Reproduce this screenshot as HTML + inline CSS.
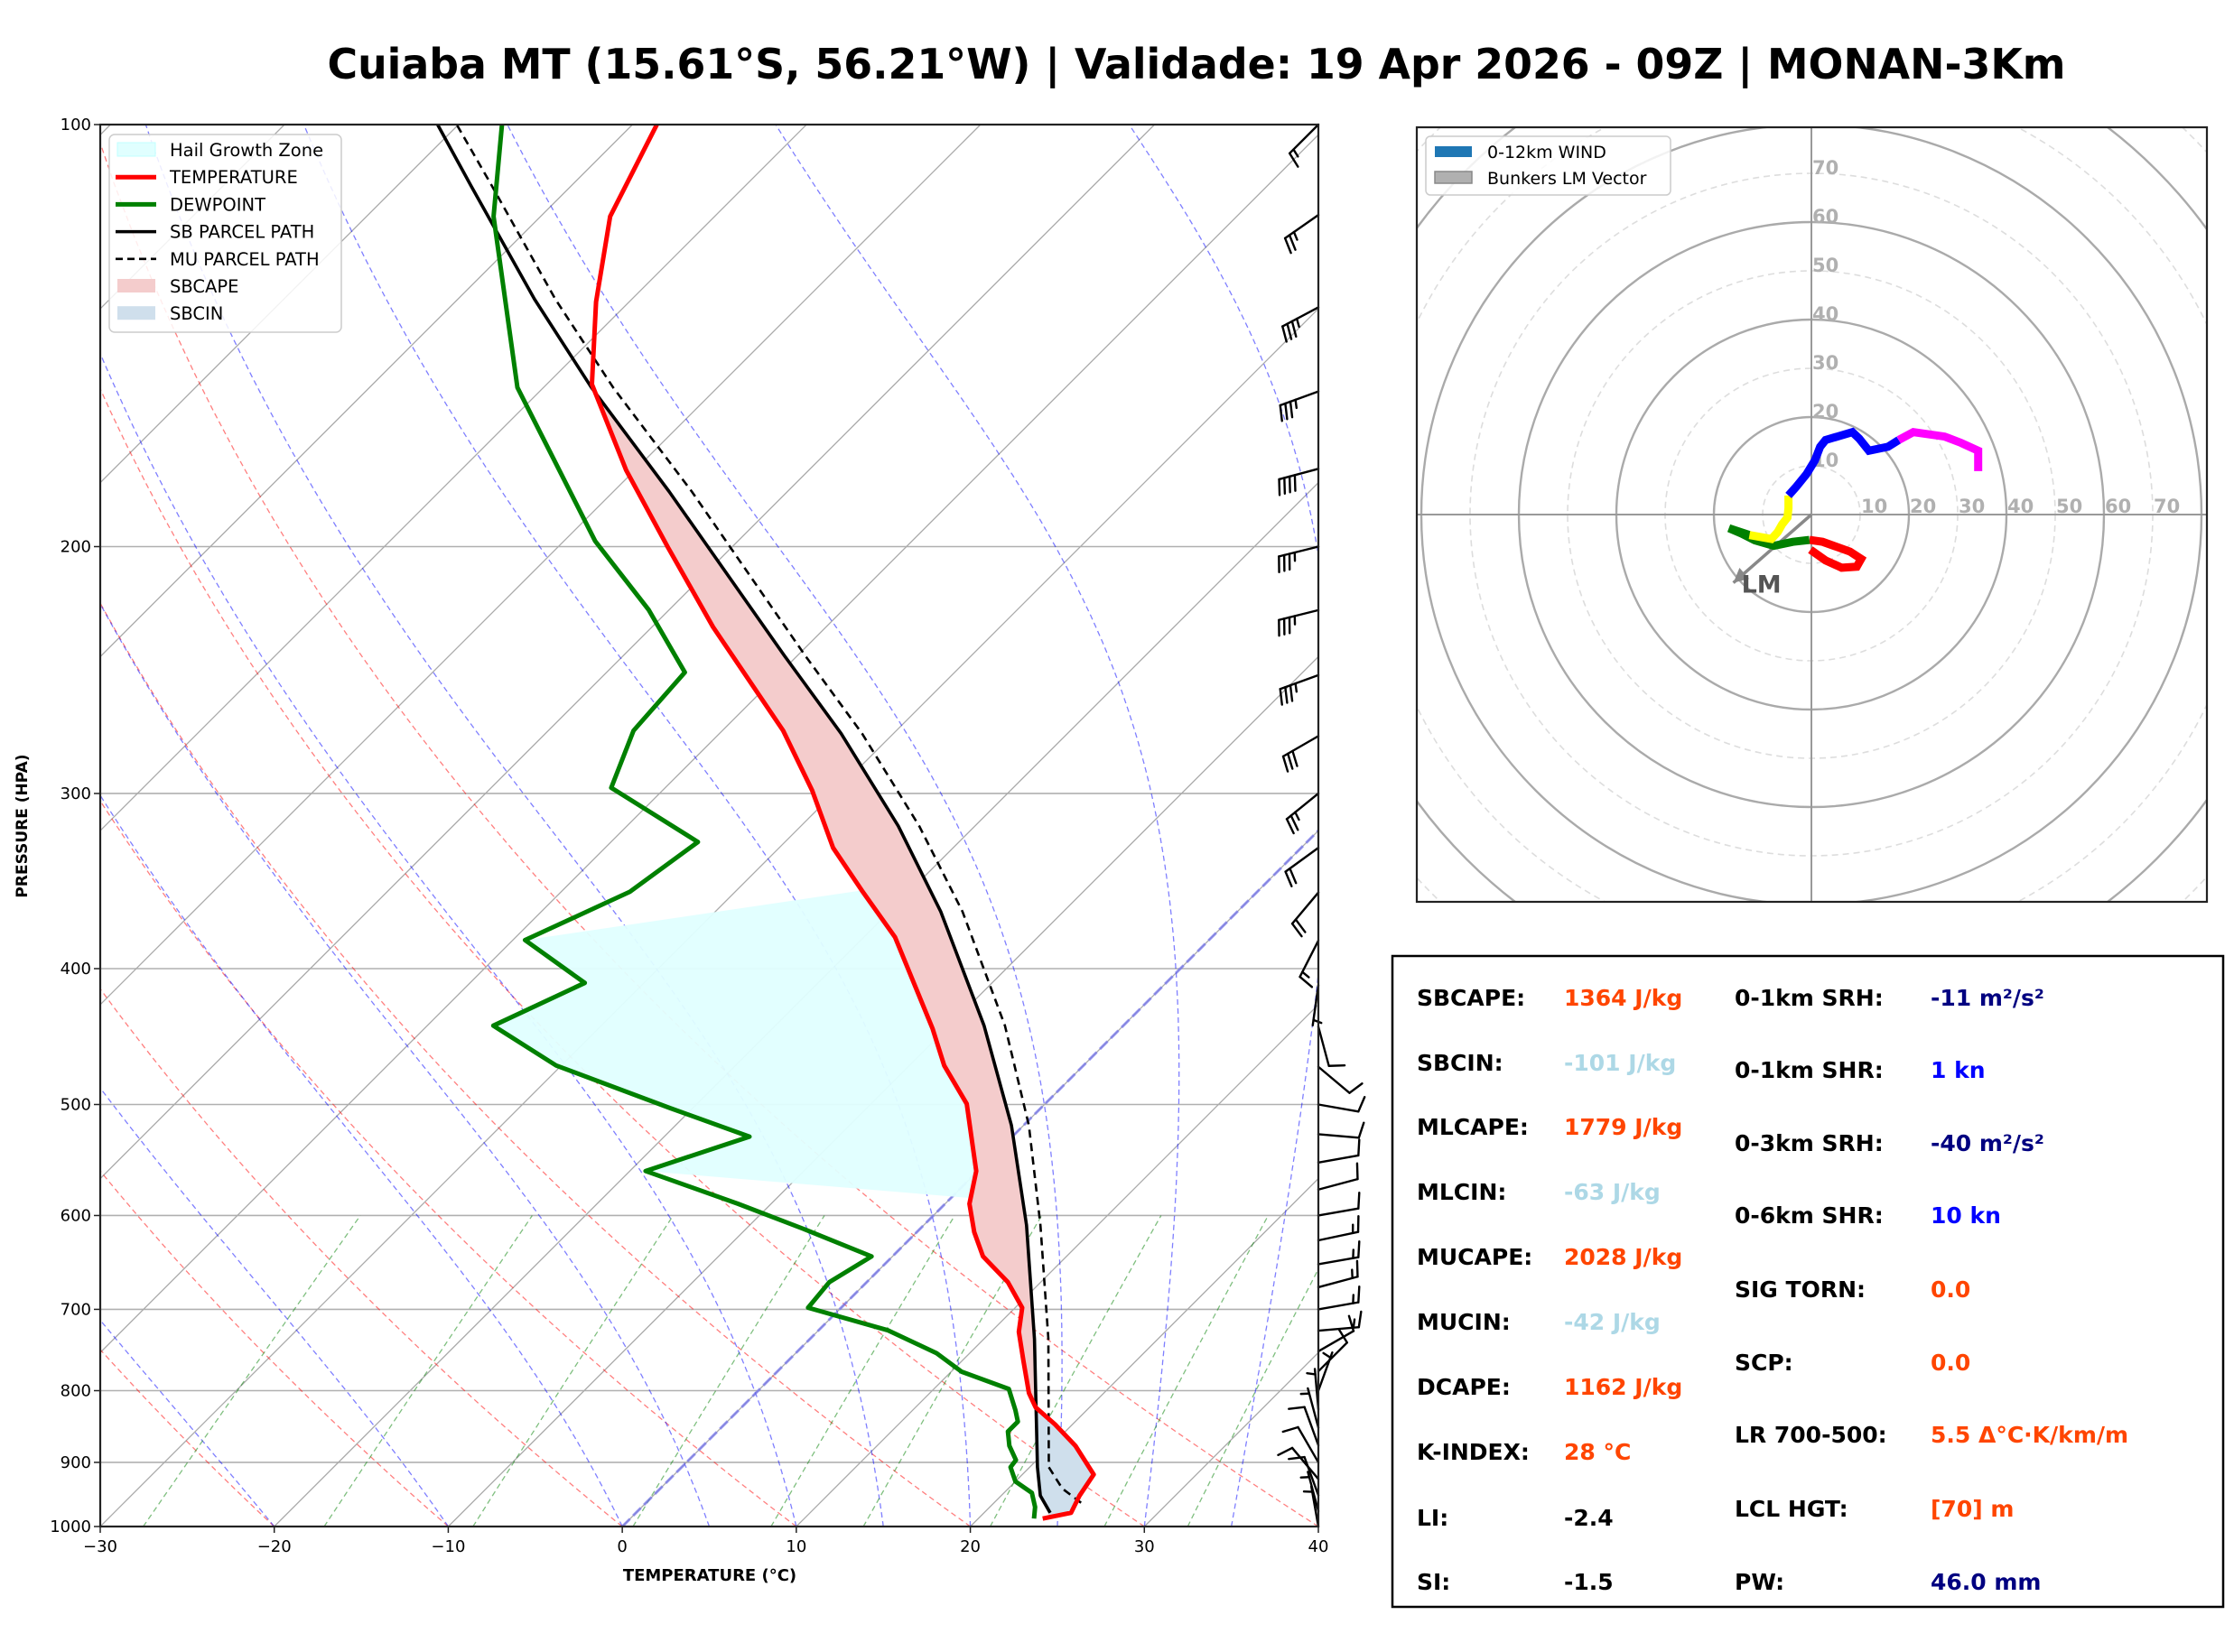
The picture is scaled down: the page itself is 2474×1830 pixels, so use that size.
<!DOCTYPE html>
<html><head><meta charset="utf-8"><title>Skew-T Cuiaba</title>
<style>html,body{margin:0;padding:0;background:#fff}svg{display:block}</style></head>
<body>
<svg id="fig" xmlns="http://www.w3.org/2000/svg" width="2474" height="1830" viewBox="0 0 2474 1830" font-family="'DejaVu Sans','Liberation Sans',sans-serif">
<defs>
<clipPath id="skclip"><rect x="111" y="138" width="1349" height="1553"/></clipPath>
<clipPath id="hdclip"><rect x="1569" y="141" width="875" height="858"/></clipPath>
</defs>
<rect x="0" y="0" width="2474" height="1830" fill="#fff"/>
<text x="1325" y="87" text-anchor="middle" font-size="46" font-weight="bold" textLength="1925" lengthAdjust="spacingAndGlyphs">Cuiaba MT (15.61°S, 56.21°W) | Validade: 19 Apr 2026 - 09Z | MONAN-3Km</text>
<g id="skew"></g>
<g id="hodo"></g>
<g id="stats">
<rect x="1542" y="1059" width="920" height="721" fill="#fff" stroke="#000" stroke-width="2.5"/>
<g font-size="25" font-weight="bold">
<text x="1569" y="1114">SBCAPE:</text><text x="1732" y="1114" fill="#ff4500">1364 J/kg</text>
<text x="1569" y="1186">SBCIN:</text><text x="1732" y="1186" fill="#add8e6">-101 J/kg</text>
<text x="1569" y="1257">MLCAPE:</text><text x="1732" y="1257" fill="#ff4500">1779 J/kg</text>
<text x="1569" y="1329">MLCIN:</text><text x="1732" y="1329" fill="#add8e6">-63 J/kg</text>
<text x="1569" y="1401">MUCAPE:</text><text x="1732" y="1401" fill="#ff4500">2028 J/kg</text>
<text x="1569" y="1473">MUCIN:</text><text x="1732" y="1473" fill="#add8e6">-42 J/kg</text>
<text x="1569" y="1545">DCAPE:</text><text x="1732" y="1545" fill="#ff4500">1162 J/kg</text>
<text x="1569" y="1617">K-INDEX:</text><text x="1732" y="1617" fill="#ff4500">28 °C</text>
<text x="1569" y="1690">LI:</text><text x="1732" y="1690">-2.4</text>
<text x="1569" y="1761">SI:</text><text x="1732" y="1761">-1.5</text>
<text x="1921" y="1114">0-1km SRH:</text><text x="2138" y="1114" fill="#000080">-11 m²/s²</text>
<text x="1921" y="1194">0-1km SHR:</text><text x="2138" y="1194" fill="#0000ff">1 kn</text>
<text x="1921" y="1275">0-3km SRH:</text><text x="2138" y="1275" fill="#000080">-40 m²/s²</text>
<text x="1921" y="1355">0-6km SHR:</text><text x="2138" y="1355" fill="#0000ff">10 kn</text>
<text x="1921" y="1437">SIG TORN:</text><text x="2138" y="1437" fill="#ff4500">0.0</text>
<text x="1921" y="1518">SCP:</text><text x="2138" y="1518" fill="#ff4500">0.0</text>
<text x="1921" y="1598">LR 700-500:</text><text x="2138" y="1598" fill="#ff4500">5.5 Δ°C·K/km/m</text>
<text x="1921" y="1680">LCL HGT:</text><text x="2138" y="1680" fill="#ff4500">[70] m</text>
<text x="1921" y="1761">PW:</text><text x="2138" y="1761" fill="#000080">46.0 mm</text>
</g>
</g>
</svg>
<script>
// ---------- Sounding data ----------
const tempP = [987,977.7,950.6,918.1,875.8,845.6,822.2,803.2,761.3,726.4,698.1,669.3,641.7,616.6,588.6,557.7,499.5,469.0,441.3,379.9,351.8,328.0,298.5,270.6,228.2,200.1,176.4,153.2,133.8,116.3,100];
const tempT = [23.7,25.0,24.5,24.1,21.4,19.0,16.9,15.7,13.5,11.6,10.4,8.1,5.2,3.3,1.4,-0.1,-4.5,-8.0,-10.8,-18.2,-22.8,-26.9,-31.4,-36.5,-46.5,-53.7,-60.5,-67.4,-71.9,-76.0,-78.6];
const dewP = [987,968.5,946.2,928.7,907.2,896.6,875.8,855.6,841.7,826.0,797.7,775.5,752.3,724.6,698.1,669.3,641.7,613.8,588.6,557.7,527.1,503.0,469.0,439.3,409.5,381.7,352.6,324.9,297.2,270.6,245.9,221.8,198.2,154.0,116.3,100];
const dewT = [23.2,22.6,21.6,20.0,18.9,18.8,17.6,16.7,16.7,15.9,14.3,10.6,8.1,4.0,-1.9,-2.15,-1.2,-6.6,-11.9,-19.1,-15.1,-21.3,-30.3,-36.2,-33.4,-39.3,-36.05,-35.0,-43.1,-45.1,-45.5,-51.2,-58.2,-71.5,-82.7,-87.5];
const sbP = [977.7,950.6,907.2,734.8,609.5,517.4,439.3,364.2,316.5,271.9,239.0,182.7,154.0,133.2,110.5,100];
const sbT = [23.8,22.25,20.45,12.9,5.9,-0.7,-8.0,-17.05,-24.4,-33.0,-40.8,-56.8,-67.25,-75.6,-85.8,-91.2];
const muP = [961.8,939.5,907.2,734.8,609.5,517.4,439.3,364.2,316.5,271.9,239.0,182.7,154.0,133.2,110.5,100];
const muT = [25.0,23.1,21.1,13.7,6.7,0.3,-6.8,-15.8,-23.2,-31.8,-39.6,-55.5,-66.0,-74.4,-84.6,-90.1];
const hailTop = 350, hailBot = 575;
const windP = [100,116,135,155,176,200,222,247,273,300,328,353,382,411,440,470,500,525,550,575,600,625,650,675,700,725,750,775,800,825,850,875,900,925,950,975,1000];
const windDir = [225,235,242,250,255,256,256,250,240,231,234,220,207,188,165,130,100,95,80,75,80,78,80,75,80,85,60,45,20,355,345,340,330,320,340,345,350];
const windSpd = [15,25,35,35,40,35,35,35,30,25,20,20,15,5,10,10,10,10,10,10,10,15,15,15,15,15,10,10,5,5,5,10,10,10,10,5,5];
const xTicks = [-30,-20,-10,0,10,20,30,40];
const yTicks = [100,200,300,400,500,600,700,800,900,1000];
const dryT0 = [-30,-20,-10,0,10,20,30,40];
const moistT0 = [-50,-40,-30,-20,-10,0,5,10,15,20,25,30,35,40];
const mixW = [0.0004,0.001,0.002,0.004,0.007,0.01,0.016,0.024,0.032];
// ---------- Hodograph data (knots) ----------
const hodoU = [-0.2,2.9,6.2,9.3,10.2,7.9,4.6,2.3, -0.4,-3.8,-7.7,-11.6,-14.3,-16.9, -12.7,-8.2,-6.9,-6.0,-4.9,-4.7, -4.7,-3.2,-1.0,0.7,1.8,2.9,8.4,9.8,11.8,15.7, 17.9,20.9,27.3,30.7,34.2,34.2];
const hodoV = [-7.2,-9.4,-10.9,-10.7,-9.1,-7.6,-6.4,-5.6, -5.2,-5.6,-6.4,-5.3,-3.9,-2.8, -4.2,-5.0,-3.6,-2.0,-0.6,1.3, 3.9,5.6,8.3,11.1,13.9,15.3,16.9,15.6,13.1,13.9, 15.3,16.9,16.0,14.7,13.1,8.9];
const hodoSeg = [0,0,0,0,0,0,0,0, 1,1,1,1,1,1, 2,2,2,2,2,2, 3,3,3,3,3,3,3,3,3,3, 4,4,4,4,4,4];
const segColors = ['#ff0000','#008000','#ffff00','#0000ff','#ff00ff'];
const segNames = ['hodo-0-1km','hodo-1-3km','hodo-3-6km','hodo-6-9km','hodo-9-12km'];
const lmU = -16, lmV = -14;
const ringKn = [10,20,30,40,50,60,70,80,90,100,110];
const ringLabels = [10,20,30,40,50,60,70];

const NS = 'http://www.w3.org/2000/svg';
function mk(tag, attrs, parent){
  const e = document.createElementNS(NS, tag);
  for (const k in attrs) e.setAttribute(k, attrs[k]);
  parent.appendChild(e);
  return e;
}
const X0=111, X1=1460, Y0=138, Y1=1691;
const PXC=(X1-X0)/70;
function yP(p){return Y0+(Y1-Y0)*Math.log10(p/100);}
function xT(t,p){return X0+(t+30)*PXC+(Y1-yP(p));}
function interp(P,T,p){
  const lp=Math.log(p);
  if (p>=P[0]) return T[0];
  for(let i=0;i<P.length-1;i++){
    const a=Math.log(P[i]), b=Math.log(P[i+1]);
    if(lp<=a && lp>=b){const f=(a-lp)/(a-b);return T[i]+f*(T[i+1]-T[i]);}
  }
  return T[T.length-1];
}
function pathFrom(P,T){
  let d='';
  for(let i=0;i<P.length;i++){d+=(i?'L':'M')+xT(T[i],P[i]).toFixed(1)+','+yP(P[i]).toFixed(1);}
  return d;
}
const skew=document.getElementById('skew');
const bg=mk('g',{'clip-path':'url(#skclip)'},skew);


for(const p of yTicks){
  const l=mk('line',{x1:X0,x2:X1,y1:yP(p),y2:yP(p),stroke:'#b0b0b0','stroke-width':1.6},bg);
  
  
}
for(let t=-130;t<=40;t+=10){
  const l=mk('line',{x1:xT(t,1000),y1:Y1,x2:xT(t,100),y2:Y0,stroke:'#aaaaaa','stroke-width':1.3},bg);
  
  
}
for(const t0 of dryT0){
  let d='';
  for(let p=1000;p>=100;p-=10){const t=(t0+273.15)*Math.pow(p/1000,0.2857)-273.15;d+=(p===1000?'M':'L')+xT(t,p).toFixed(1)+','+yP(p).toFixed(1);}
  const e=mk('path',{d:d,fill:'none',stroke:'#ff0000','stroke-opacity':0.5,'stroke-width':1.3,'stroke-dasharray':'6,4'},bg);
  
  
}
function es(tc){return 6.112*Math.exp(17.67*tc/(tc+243.5));}
for(const t0 of moistT0){
  let T=t0+273.15, d='M'+xT(t0,1000).toFixed(1)+','+Y1;
  for(let p=1000;p>100;p-=2){
    const tc=T-273.15, e=es(tc), rs=0.622*e/(p-e);
    const num=287*T+2.5e6*rs, den=1005+2.5e6*2.5e6*rs*0.622/(287*T*T);
    T-= (num/(p*den))*2;
    const pn=p-2;
    d+='L'+xT(T-273.15,pn).toFixed(1)+','+yP(pn).toFixed(1);
  }
  const e=mk('path',{d:d,fill:'none',stroke:'#0000ff','stroke-opacity':0.5,'stroke-width':1.3,'stroke-dasharray':'6,4'},bg);
  
  
}
for(const w of mixW){
  let d='';
  for(let p=1000;p>=600;p-=10){const e=w*p/(0.622+w);const L=Math.log(e/6.112);const td=243.5*L/(17.67-L);d+=(p===1000?'M':'L')+xT(td,p).toFixed(1)+','+yP(p).toFixed(1);}
  const e=mk('path',{d:d,fill:'none',stroke:'#008000','stroke-opacity':0.5,'stroke-width':1.3,'stroke-dasharray':'6,4'},bg);
  
  
}
const zl=mk('line',{x1:xT(0,1000),y1:Y1,x2:xT(0,100),y2:Y0,stroke:'#7070ee','stroke-opacity':0.7,'stroke-width':3,'stroke-dasharray':'12,5'},bg);



const fg=mk('g',{'clip-path':'url(#skclip)'},skew);


{
  let d='';let first=true;
  for(let i=dewP.length-1;i>=0;i--){ if(dewP[i]<=hailBot && dewP[i]>=hailTop+28){d+=(first?'M':'L')+xT(dewT[i],dewP[i]).toFixed(1)+','+yP(dewP[i]).toFixed(1);first=false;} }
  const pb=hailBot+8; d+='L'+xT(interp(tempP,tempT,pb),pb).toFixed(1)+','+yP(pb).toFixed(1);
  for(let i=0;i<tempP.length;i++){ if(tempP[i]<pb && tempP[i]>=hailTop) d+='L'+xT(tempT[i],tempP[i]).toFixed(1)+','+yP(tempP[i]).toFixed(1); }
  d+='Z';
  const h=mk('path',{d:d,fill:'#e0ffff','fill-opacity':0.95,stroke:'none'},fg);
  
  
}
function fillBetween(pHi,pLo,fa,fb,color,name){
  const ps=[];for(let i=0;i<=200;i++){ps.push(Math.exp(Math.log(pHi)+(Math.log(pLo)-Math.log(pHi))*i/200));}
  let d='';ps.forEach((p,i)=>{d+=(i?'L':'M')+xT(fa(p),p).toFixed(1)+','+yP(p).toFixed(1);});
  for(let i=ps.length-1;i>=0;i--){const p=ps[i];d+='L'+xT(fb(p),p).toFixed(1)+','+yP(p).toFixed(1);}
  const e=mk('path',{d:d+'Z',fill:color,stroke:'none'},fg);
  
  
}
fillBetween(830,150,p=>interp(tempP,tempT,p),p=>Math.max(interp(tempP,tempT,p),interp(sbP,sbT,p)),'#f4cccc','sbcape-fill');
fillBetween(985,810,p=>Math.min(interp(tempP,tempT,p),interp(sbP,sbT,p)),p=>interp(tempP,tempT,p),'#cfdfec','sbcin-fill');
function line(P,T,attrs,name){
  const e=mk('path',Object.assign({d:pathFrom(P,T),fill:'none','stroke-linejoin':'round'},attrs),fg);
  
  
}
line(muP,muT,{stroke:'#000','stroke-width':2.6,'stroke-dasharray':'9,6'},'mu-parcel-path');
line(sbP,sbT,{stroke:'#000','stroke-width':3.6},'sb-parcel-path');
line(dewP,dewT,{stroke:'#008000','stroke-width':5},'dewpoint-line');
line(tempP,tempT,{stroke:'#ff0000','stroke-width':5},'temperature-line');

const bgp=mk('g',{stroke:'#000','stroke-width':2.4,fill:'#000','stroke-linecap':'round'},skew);


const BL=45;
for(let i=0;i<windP.length;i++){
  const ax=X1, ay=yP(windP[i]);
  const r=windDir[i]*Math.PI/180;
  const sx=Math.sin(r), sy=-Math.cos(r);
  const tx=ax+sx*BL, ty=ay+sy*BL;
  const g=mk('g',{},bgp);
  
  
  mk('line',{x1:ax,y1:ay,x2:tx,y2:ty},g);
  let spd=Math.round(windSpd[i]/5)*5;
  const px=sy, py=-sx;
  let pos=0;
  while(spd>=50){const bx=tx-sx*pos,by=ty-sy*pos;mk('polygon',{points:`${bx},${by} ${bx+px*18-sx*4},${by+py*18-sy*4} ${bx-sx*8},${by-sy*8}`},g);pos+=10;spd-=50;}
  while(spd>=10){const bx=tx-sx*pos,by=ty-sy*pos;mk('line',{x1:bx,y1:by,x2:bx+px*17+sx*4,y2:by+py*17+sy*4},g);pos+=6;spd-=10;}
  if(spd>=5){if(pos===0)pos=6;const bx=tx-sx*pos,by=ty-sy*pos;mk('line',{x1:bx,y1:by,x2:bx+px*9+sx*2,y2:by+py*9+sy*2},g);}
}

const ax=mk('g',{},skew);


const frame=mk('rect',{x:X0,y:Y0,width:X1-X0,height:Y1-Y0,fill:'none',stroke:'#222','stroke-width':2.2},ax);


for(const t of xTicks){
  const x=X0+(t+30)*PXC;
  mk('line',{x1:x,x2:x,y1:Y1,y2:Y1+7,stroke:'#222','stroke-width':1.5},ax);
  const tx=mk('text',{x:x,y:1719,'text-anchor':'middle','font-size':18},ax);
  tx.textContent=(t<0?'\u2212':'')+Math.abs(t);
  
  
}
for(const p of yTicks){
  const y=yP(p);
  mk('line',{x1:X0-7,x2:X0,y1:y,y2:y,stroke:'#222','stroke-width':1.5},ax);
  const tx=mk('text',{x:101,y:y+6,'text-anchor':'end','font-size':18},ax);
  tx.textContent=p;
  
  
}
const xl=mk('text',{x:786,y:1751,'text-anchor':'middle','font-size':18,'font-weight':'bold'},ax);
xl.textContent='TEMPERATURE (°C)';


const yl=mk('text',{x:0,y:0,'text-anchor':'middle','font-size':17,'font-weight':'bold',transform:'translate(30,915) rotate(-90)'},ax);
yl.textContent='PRESSURE (HPA)';



const lg=mk('g',{},skew);


mk('rect',{x:121,y:149,width:257,height:219,rx:6,fill:'#fff','fill-opacity':0.85,stroke:'#ccc','stroke-width':1.5},lg);
const legItems=[['Hail Growth Zone','patch','#e0ffff'],['TEMPERATURE','line','#ff0000'],['DEWPOINT','line','#008000'],['SB PARCEL PATH','line','#000'],['MU PARCEL PATH','dash','#000'],['SBCAPE','patch','#f4cccc'],['SBCIN','patch','#cfdfec']];
legItems.forEach((it,i)=>{
  const cy=166+i*30.2;
  const g=mk('g',{},lg);
  
  
  if(it[1]==='patch') mk('rect',{x:130,y:cy-8,width:42,height:15,fill:it[2],stroke:i===0?'#c0ffff':'none'},g);
  else if(it[1]==='line') mk('line',{x1:128,x2:173,y1:cy,y2:cy,stroke:it[2],'stroke-width':i===3?3.5:5},g);
  else mk('line',{x1:128,x2:173,y1:cy,y2:cy,stroke:it[2],'stroke-width':2.6,'stroke-dasharray':'8,5'},g);
  const t=mk('text',{x:188,y:cy+7,'font-size':19.5},g);
  t.textContent=it[0];
});

const hodo=document.getElementById('hodo');
const HX=2006, HY=570, KS=5.4;
function hx(u){return HX+u*KS;}
function hy(v){return HY-v*KS;}
const hc=mk('g',{'clip-path':'url(#hdclip)'},hodo);


for(const k of ringKn){
  const solid=(k%20===0);
  const c=mk('circle',{cx:HX,cy:HY,r:k*KS,fill:'none',stroke:solid?'#aaaaaa':'#dddddd','stroke-width':solid?2.4:1.6,'stroke-dasharray':solid?'none':'7,5'},hc);
  
  
}
mk('line',{x1:1569,x2:2444,y1:HY,y2:HY,stroke:'#999','stroke-width':2},hc);
mk('line',{x1:HX,x2:HX,y1:141,y2:999,stroke:'#999','stroke-width':2},hc);
for(const k of ringLabels){
  const t1=mk('text',{x:hx(k)+1,y:HY-2,'font-size':21,'font-weight':'bold',fill:'#b0b0b0'},hc);
  t1.textContent=k;
  
  
  const t2=mk('text',{x:HX+1,y:hy(k)+1,'font-size':21,'font-weight':'bold',fill:'#b0b0b0'},hc);
  t2.textContent=k;
  
  
}
const lmx=hx(lmU), lmy=hy(lmV);
const lmLine=mk('line',{x1:HX,y1:HY,x2:lmx,y2:lmy,stroke:'#888','stroke-width':3.5},hc);


{
  const ang=Math.atan2(lmy-HY,lmx-HX);
  const ux=Math.cos(ang), uy=Math.sin(ang);
  const pts=`${lmx},${lmy} ${lmx-ux*16-uy*8},${lmy-uy*16+ux*8} ${lmx-ux*16+uy*8},${lmy-uy*16-ux*8}`;
  const ah=mk('polygon',{points:pts,fill:'#888'},hc);
  
  
}
const lmt=mk('text',{x:lmx+9,y:lmy+11,'font-size':27,'font-weight':'bold',fill:'#555'},hc);
lmt.textContent='LM';


for(let s=0;s<segColors.length;s++){
  let d='';let started=false;
  for(let i=0;i<hodoU.length;i++){
    if(hodoSeg[i]===s || (hodoSeg[i]===s+1 && i>0 && hodoSeg[i-1]===s)){
      d+=(started?'L':'M')+hx(hodoU[i]).toFixed(1)+','+hy(hodoV[i]).toFixed(1);started=true;
    }
  }
  const e=mk('path',{d:d,fill:'none',stroke:segColors[s],'stroke-width':9,'stroke-linejoin':'miter'},hc);
  
  
}
const hf=mk('rect',{x:1569,y:141,width:875,height:858,fill:'none',stroke:'#222','stroke-width':2.2},hodo);


const hl=mk('g',{},hodo);


mk('rect',{x:1579,y:151,width:271,height:65,rx:5,fill:'#fff','fill-opacity':0.85,stroke:'#ccc','stroke-width':1.5},hl);
mk('rect',{x:1589,y:162,width:41,height:12,fill:'#1f77b4'},hl);
const ht1=mk('text',{x:1647,y:175,'font-size':19},hl);
ht1.textContent='0-12km WIND';


mk('rect',{x:1589,y:190,width:41,height:13,fill:'#b0b0b0',stroke:'#888','stroke-width':1.5},hl);
const ht2=mk('text',{x:1647,y:204,'font-size':19},hl);
ht2.textContent='Bunkers LM Vector';


</script>
</body></html>
